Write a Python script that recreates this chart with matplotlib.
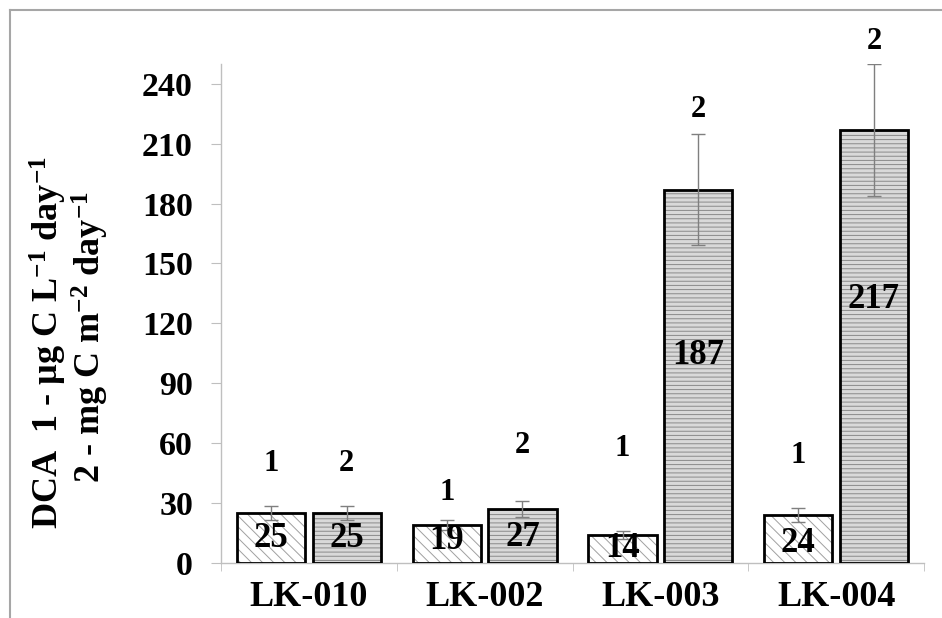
import matplotlib
matplotlib.use('Agg')
import matplotlib.pyplot as plt
import numpy as np
from matplotlib.lines import Line2D

plt.rcParams['font.family'] = ['Liberation Serif', 'DejaVu Serif']
plt.rcParams['font.weight'] = 'bold'
plt.rcParams['mathtext.fontset'] = 'custom'
plt.rcParams['mathtext.rm'] = 'Liberation Serif:bold'
plt.rcParams['mathtext.default'] = 'rm'
plt.rcParams['hatch.linewidth'] = 0.7

# data
sites = ['LK-010', 'LK-002', 'LK-003', 'LK-004']
dca_water = [25, 19, 14, 24]      # 1 - ug C L-1 day-1
dca_sed = [25, 27, 187, 217]      # 2 - mg C m-2 day-1
err_water = [3.5, 2.5, 2, 3.5]
err_sed = [3.5, 4, 28, 33]

# label placement (data units)
inner_y = [[12.5, 12.5], [11.5, 13], [7.5, 104], [10, 132]]
num_y = [[50, 50], [35.5, 59], [57.5, 227], [54, 261]]

fig = plt.figure(figsize=(9.42, 6.18), dpi=100)
ax = fig.add_axes([221/942, 55/618, 703/942, 499.3/618])

x = np.arange(len(sites)) + 0.5
w = 0.389
off = 0.2155
xs = [x - off, x + off]

# fills with hatch
ax.bar(xs[0], dca_water, w, color='white', edgecolor='#a0a0a0', hatch='\\\\\\', linewidth=0, zorder=2)
ax.bar(xs[1], dca_sed, w, color='#d9d9d9', edgecolor='#8a8a8a', hatch='----', linewidth=0, zorder=2)
# outlines
ax.bar(xs[0], dca_water, w, fill=False, edgecolor='black', linewidth=2, zorder=3)
ax.bar(xs[1], dca_sed, w, fill=False, edgecolor='black', linewidth=2, zorder=3)

ax.errorbar(xs[0], dca_water, yerr=err_water, fmt='none', ecolor='#7f7f7f', elinewidth=1, capsize=5, capthick=1, zorder=4)
ax.errorbar(xs[1], dca_sed, yerr=err_sed, fmt='none', ecolor='#7f7f7f', elinewidth=1, capsize=5, capthick=1, zorder=4)

vals = [dca_water, dca_sed]
for s in range(2):
    for i in range(len(sites)):
        ax.text(xs[s][i], inner_y[i][s], str(vals[s][i]), ha='center', va='center',
                fontsize=25, fontweight='bold', zorder=5)
        ax.text(xs[s][i], num_y[i][s], str(s + 1), ha='center', va='center',
                fontsize=22, fontweight='bold', clip_on=False, zorder=5)

ax.set_xlim(0, 4)
ax.set_ylim(0, 250)
ax.set_yticks(np.arange(0, 241, 30))
ax.set_xticks(x)
ax.set_xticklabels(sites)
ax.set_xticks(np.arange(0, 5), minor=True)
ax.tick_params(axis='x', which='major', length=0, pad=13, labelsize=26)
ax.tick_params(axis='x', which='minor', length=6, color='#bfbfbf', direction='out')
ax.tick_params(axis='y', length=7.2, color='#bfbfbf', labelsize=24.5, pad=13)

for sp in ['top', 'right']:
    ax.spines[sp].set_visible(False)
for sp in ['left', 'bottom']:
    ax.spines[sp].set_color('#bfbfbf')
    ax.spines[sp].set_linewidth(1)

fig.text(48/942, 1 - 342/618, r'DCA  1 - µg C L$^{-1}$ day$^{-1}$', rotation=90,
         ha='center', va='center', fontsize=26, fontweight='bold')
fig.text(90/942, 1 - 337/618, r'2 - mg C m$^{-2}$ day$^{-1}$', rotation=90,
         ha='center', va='center', fontsize=26, fontweight='bold')

# outer frame
fig.add_artist(Line2D([10/942, 10/942], [0, 1 - 10/618], color='#a6a6a6', lw=1.5, transform=fig.transFigure))
fig.add_artist(Line2D([10/942, 1], [1 - 10/618, 1 - 10/618], color='#a6a6a6', lw=1.5, transform=fig.transFigure))

fig.savefig('out.png', dpi=100)
